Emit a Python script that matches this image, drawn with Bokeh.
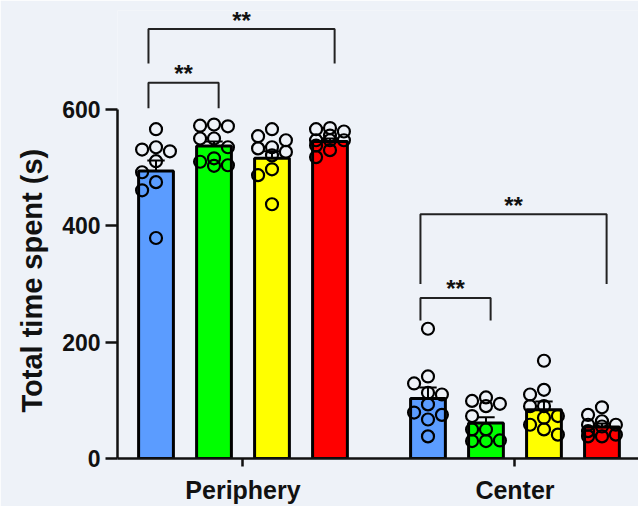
import numpy as np
from bokeh.plotting import figure
from bokeh.models import ColumnDataSource, Range1d, FixedTicker, Title
from bokeh.core.properties import value
from bokeh.embed import file_html
from bokeh.resources import INLINE

# ---------------- data ----------------
groups = ["Periphery", "Center"]
bar_colors = ["#5B9CFF", "#00FF00", "#FFFF00", "#FF0000"]

periphery_means = [494, 537, 516, 545]
periphery_sem = [18, 8, 12, 5]
center_means = [103, 61, 84, 54]
center_sem = [19, 10, 14, 6]

periphery_points = [
    [566, 531, 535, 528, 511, 492, 475, 461, 379],
    [571, 574, 572, 550, 550, 535, 516, 503, 504, 510],
    [547, 554, 566, 527, 533, 535, 521, 497, 487, 437],
    [562, 566, 568, 547, 547, 547, 530, 518, 538, 555],
]
center_points = [
    [223, 141, 129, 110, 113, 79, 67, 75, 38, 93],
    [90, 94, 99, 105, 73, 30, 30, 31, 50, 50],
    [168, 118, 110, 90, 90, 58, 41, 50, 73, 70],
    [88, 75, 58, 64, 55, 58, 38, 38, 47, 41],
]

# significance comparisons: (group index, bar i, bar j, bracket top, bracket foot, label)
comparisons = [
    (0, 0, 3, 738, 679, "**"),
    (0, 0, 1, 646, 602, "**"),
    (1, 0, 3, 420, 300, "**"),
    (1, 0, 1, 276, 237, "**"),
]

y_ticks = [0, 200, 400, 600]
y_label = "Total time spent (s)"

# ---------------- layout ----------------
GROUP_OFFSET = [0.0, 4.69]
BAR_W = 0.6
X0, X1 = -0.664, 8.32
Y0, Y1 = 0, 770
W, H = 638, 506
ML, MT, MB, MR = 117, 10, 47, 0
PX_X = (W - ML - MR) / (X1 - X0)
PX_Y = (H - MT - MB) / (Y1 - Y0)

FONT = "Liberation Sans"
INK = "#111111"
BG = "#EEF2F8"

p = figure(width=W, height=H, output_backend="svg", toolbar_location=None,
           x_range=Range1d(X0, X1), y_range=Range1d(Y0, Y1),
           min_border_left=ML, min_border_top=MT, min_border_bottom=MB,
           min_border_right=MR)
p.background_fill_color = BG
p.border_fill_color = BG
p.outline_line_color = None
p.grid.visible = False


def swarm(vals, x0, step=0.24, d_px=11.5):
    order = sorted(range(len(vals)), key=lambda k: -vals[k])
    xs = [0.0] * len(vals)
    placed = []
    for k in order:
        v = vals[k]
        best = None
        for m in [0, -1, 1]:
            x = x0 + m * step
            ov = 0.0
            for (px, pv) in placed:
                d = np.hypot((x - px) * PX_X, (v - pv) * PX_Y)
                ov += max(0.0, d_px - d)
            if best is None or ov < best[0] - 1e-9:
                best = (ov, x)
        xs[k] = best[1]
        placed.append((best[1], v))
    return xs


all_means = [periphery_means, center_means]
all_sem = [periphery_sem, center_sem]
all_pts = [periphery_points, center_points]

bx, btop, bcol = [], [], []
ex, elo, ehi = [], [], []
sx, sy = [], []
for g in range(2):
    for i in range(4):
        xc = GROUP_OFFSET[g] + i
        bx.append(xc)
        btop.append(all_means[g][i])
        bcol.append(bar_colors[i])
        ex.append(xc)
        elo.append(all_means[g][i])
        ehi.append(all_means[g][i] + all_sem[g][i])
        pts = all_pts[g][i]
        sx.extend(swarm(pts, xc))
        sy.extend(pts)

bars = ColumnDataSource(dict(x=bx, top=btop, color=bcol))
p.vbar(x="x", top="top", bottom=0, width=BAR_W, fill_color="color",
       line_color="black", line_width=3, source=bars)

err = ColumnDataSource(dict(x=ex, lo=elo, hi=ehi,
                            xl=[x - 0.15 for x in ex], xr=[x + 0.15 for x in ex]))
p.segment(x0="x", y0="lo", x1="x", y1="hi", line_color="black", line_width=2, source=err)
p.segment(x0="xl", y0="hi", x1="xr", y1="hi", line_color="black", line_width=2, source=err)

p.scatter(sx, sy, size=12, marker="circle", fill_alpha=0, line_color="black", line_width=2.2)

# brackets
mxs, mys, tx, ty, tt = [], [], [], [], []
for g, i, j, top, foot, lab in comparisons:
    xl = GROUP_OFFSET[g] + i - 0.13
    xr = GROUP_OFFSET[g] + j + 0.08
    mxs.append([xl, xl, xr, xr])
    mys.append([foot, top, top, foot])
    tx.append((xl + xr) / 2)
    ty.append(top)
    tt.append(lab)
p.multi_line(mxs, mys, line_color="#222222", line_width=2)
p.text(tx, ty, text=tt, text_font=value(FONT), text_font_style="bold",
       text_font_size="24px", text_align="center", text_baseline="alphabetic",
       text_color=INK, y_offset=-9)

# axes
p.yaxis.ticker = FixedTicker(ticks=y_ticks)
p.yaxis.bounds = (0, 600)
p.yaxis.major_label_text_font = FONT
p.yaxis.major_label_text_font_style = "bold"
p.yaxis.major_label_text_font_size = "23px"
p.yaxis.major_label_text_color = INK
p.yaxis.major_tick_out = 12
p.yaxis.major_tick_in = 0
p.yaxis.minor_tick_line_color = None
p.yaxis.major_label_standoff = 5

ytitle = Title(text=y_label, align="left", offset=46,
               text_font=FONT, text_font_style="bold", text_font_size="29px",
               text_color=INK, standoff=24)
p.add_layout(ytitle, "left")

group_centers = [GROUP_OFFSET[g] + 1.5 for g in range(2)]
p.xaxis.ticker = FixedTicker(ticks=group_centers)
p.xaxis.major_label_overrides = {c: n for c, n in zip(group_centers, groups)}
p.xaxis.major_label_text_font = FONT
p.xaxis.major_label_text_font_style = "bold"
p.xaxis.major_label_text_font_size = "25px"
p.xaxis.major_label_text_color = INK
p.xaxis.major_tick_out = 8
p.xaxis.major_tick_in = 0
p.xaxis.minor_tick_line_color = None
p.xaxis.major_label_standoff = 9

for ax in (p.xaxis, p.yaxis):
    ax.axis_line_width = 2.5
    ax.axis_line_color = "#111111"
    ax.major_tick_line_width = 2.5
    ax.major_tick_line_color = "#111111"

html = file_html(p, INLINE)
html = html.replace("<body>", '<body style="background:%s">' % BG, 1)
open("out.html", "w").write(html)
